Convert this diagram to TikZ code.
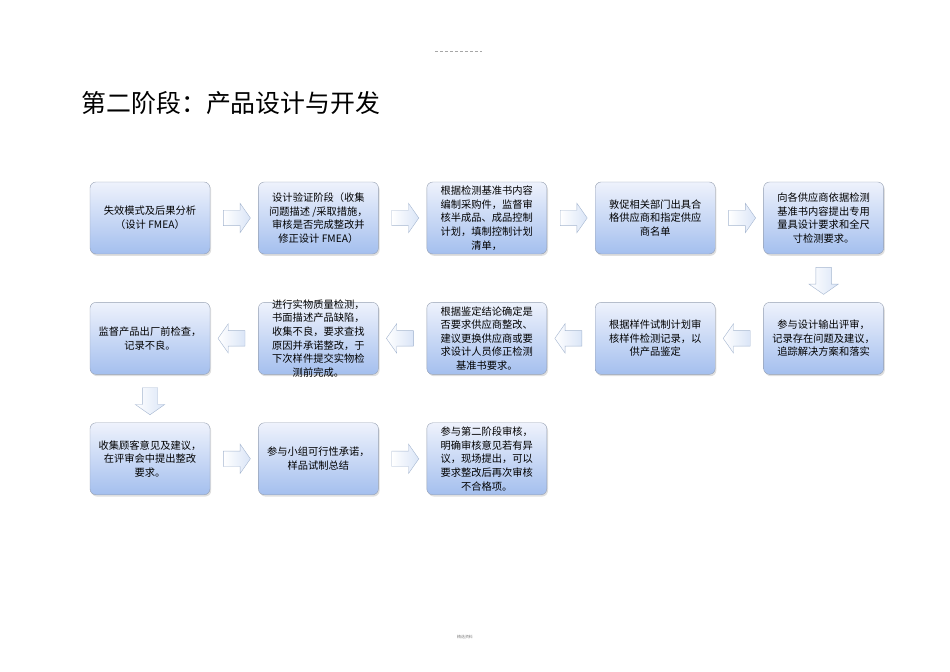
\documentclass[tikz,border=0pt]{standalone}
\usepackage{fontspec}
\setmainfont{Noto Sans CJK SC}
\usetikzlibrary{positioning,calc,shapes.arrows,shadows}

\definecolor{boxtop}{RGB}{238,242,252}
\definecolor{boxbot}{RGB}{164,191,238}
\definecolor{boxline}{RGB}{150,160,178}
\definecolor{arrfill}{RGB}{218,229,247}
\definecolor{arrline}{RGB}{165,182,208}

\begin{document}
\begin{tikzpicture}[
  x=1bp,y=1bp,
  node distance=48bp,
  stepbox/.style={draw=boxline,rounded corners=6bp,minimum width=120bp,
    minimum height=72bp,inner xsep=2bp,inner ysep=0bp,align=center,
    top color=boxtop,bottom color=boxbot,
    drop shadow={opacity=.25,shadow xshift=1.2bp,shadow yshift=-1.8bp},
    font=\fontsize{10.3}{13.7}\selectfont},
  flowarrow/.style={single arrow,draw=arrline,inner sep=0pt,
    left color=white,right color=arrfill,
    text height=15bp,text depth=0bp,text width=0bp,
    minimum height=27bp,single arrow head extend=7bp,
    single arrow tip angle=110,single arrow head indent=0pt},
  goright/.style={flowarrow},
  goleft/.style={flowarrow,rotate=180},
  godown/.style={flowarrow,rotate=-90}
]
  \useasboundingbox (0,0) rectangle (950,672);

  % title and page marks
  \node[anchor=west,font=\fontsize{25}{28}\selectfont] (title) at (78,569)
    {第二阶段：产品设计与开发};
  \draw[gray!70,densely dashed,line width=.4bp] (435,621) -- (482,621);
  \node[gray,font=\fontsize{4}{5}\selectfont] (foot) at (465,35) {精选资料};

  % row 1
  \node[stepbox] (fmea) at (150,454) {失效模式及后果分析\\（设计 FMEA）};
  \node[stepbox,right=of fmea] (verify)
    {设计验证阶段（收集\\问题描述 /采取措施，\\审核是否完成整改并\\修正设计 FMEA）};
  \node[stepbox,right=of verify] (plan)
    {根据检测基准书内容\\编制采购件，监督审\\核半成品、成品控制\\计划，填制控制计划\\清单，};
  \node[stepbox,right=of plan] (supplier)
    {敦促相关部门出具合\\格供应商和指定供应\\商名单};
  \node[stepbox,right=of supplier] (gauge)
    {向各供应商依据检测\\基准书内容提出专用\\量具设计要求和全尺\\寸检测要求。};

  % row 2, right to left
  \node[stepbox,below=of gauge] (review)
    {参与设计输出评审，\\记录存在问题及建议，\\追踪解决方案和落实};
  \node[stepbox,left=of review] (sample)
    {根据样件试制计划审\\核样件检测记录，以\\供产品鉴定};
  \node[stepbox,left=of sample] (judge)
    {根据鉴定结论确定是\\否要求供应商整改、\\建议更换供应商或要\\求设计人员修正检测\\基准书要求。};
  \node[stepbox,left=of judge,inner ysep=-5bp] (inspect)
    {进行实物质量检测，\\书面描述产品缺陷，\\收集不良，要求查找\\原因并承诺整改，于\\下次样件提交实物检\\测前完成。};
  \node[stepbox,left=of inspect] (outgoing)
    {监督产品出厂前检查，\\记录不良。};

  % row 3
  \node[stepbox,below=of outgoing] (customer)
    {收集顾客意见及建议，\\在评审会中提出整改\\要求。};
  \node[stepbox,right=of customer] (team)
    {参与小组可行性承诺，\\样品试制总结};
  \node[stepbox,right=of team] (audit)
    {参与第二阶段审核，\\明确审核意见若有异\\议，现场提出，可以\\要求整改后再次审核\\不合格项。};

  % block arrows between the steps
  \node[goright] (a1) at ($(fmea.east)!.5!(verify.west)$) {};
  \node[goright] (a2) at ($(verify.east)!.5!(plan.west)$) {};
  \node[goright] (a3) at ($(plan.east)!.5!(supplier.west)$) {};
  \node[goright] (a4) at ($(supplier.east)!.5!(gauge.west)$) {};
  \node[godown]  (a5) at ($(gauge.south)!.5!(review.north)$) {};
  \node[goleft]  (a6) at ($(review.west)!.5!(sample.east)$) {};
  \node[goleft]  (a7) at ($(sample.west)!.5!(judge.east)$) {};
  \node[goleft]  (a8) at ($(judge.west)!.5!(inspect.east)$) {};
  \node[goleft]  (a9) at ($(inspect.west)!.5!(outgoing.east)$) {};
  \node[godown]  (a10) at ($(outgoing.south)!.5!(customer.north)$) {};
  \node[goright] (a11) at ($(customer.east)!.5!(team.west)$) {};
  \node[goright] (a12) at ($(team.east)!.5!(audit.west)$) {};
\end{tikzpicture}
\end{document}
